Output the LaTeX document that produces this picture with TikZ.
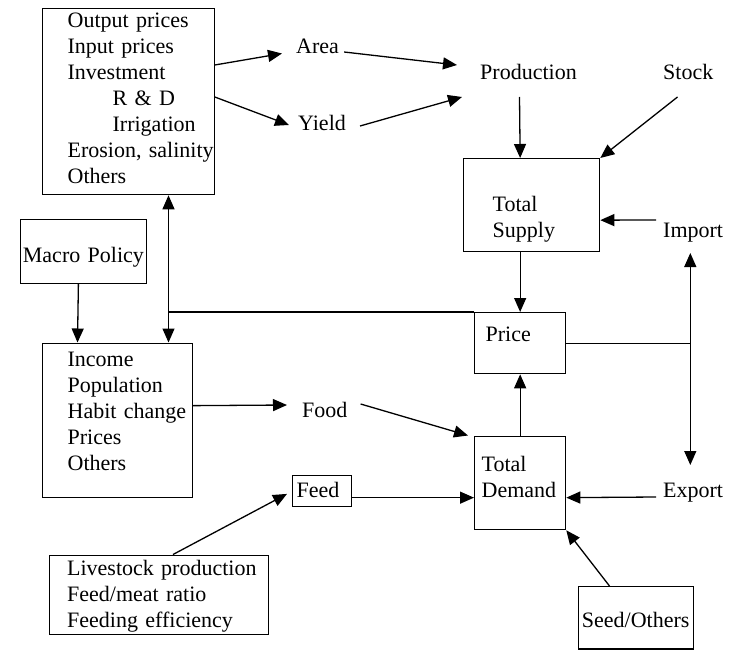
\documentclass[tikz,border=0pt]{standalone}
\usepackage{fontspec}
\setmainfont{Liberation Serif}
\usetikzlibrary{positioning, arrows.meta}

\tikzset{
	box/.style={draw, line width=1.3pt, anchor=north west, align=left, inner sep=0pt},
	lbl/.style={anchor=base west, inner sep=0pt},
	pad/.style={execute at begin node={\leftskip=#1\relax}},
	arr/.style={line width=1.3pt, -{Triangle[length=14pt, width=12pt]}},
	link/.style={line width=1.3pt},
}

\begin{document}
\begin{tikzpicture}[x=1pt, y=-1pt, font=\fontsize{22}{26}\selectfont]
	\useasboundingbox (0,0) rectangle (738,650);

	\node[box, pad=25pt, text width=171.5pt, text height=19pt, text depth=167pt] (drv) at (42,8) {Output prices\\Input prices\\Investment\\\hspace*{45pt}R \& D\\\hspace*{45pt}Irrigation\\Erosion, salinity\\Others};
	\node[box, align=center, text width=125.5pt, text height=42.5pt, text depth=21pt] (macro) at (20,219) {Macro Policy};
	\node[box, pad=25pt, text width=149.5pt, text height=23.3pt, text depth=131.2pt] (income) at (42,342.5) {Income\\Population\\Habit change\\Prices\\Others};
	\node[box, pad=18pt, text width=219pt, text height=20.5pt, text depth=58.5pt] (live) at (48.5,554.5) {Livestock production\\Feed/meat ratio\\Feeding efficiency};
	\node[box, pad=4pt, text width=59pt, text height=22.8pt, text depth=8.7pt] (feed) at (292,474.5) {Feed};
	\node[box, pad=29pt, text width=136pt, text height=52.5pt, text depth=40.5pt] (supply) at (463,158) {Total\\Supply};
	\node[box, pad=11pt, text width=91pt, text height=28.7pt, text depth=32.3pt] (price) at (474,312) {Price};
	\node[box, pad=7pt, text width=91pt, text height=35.2pt, text depth=58.3pt] (demand) at (474,435.5) {Total\\Demand};
	\node[box, align=center, text width=115pt, text height=40.7pt, text depth=21.6pt] (seed) at (577.5,586) {Seed/Others};

	\node[lbl] (area) at (296,53.5) {Area};
	\node[lbl] (yield) at (298,131) {Yield};
	\node[lbl] (prod) at (480,80) {Production};
	\node[lbl] (stock) at (663,80) {Stock};
	\node[lbl] (import) at (663,237) {Import};
	\node[lbl] (export) at (663,497) {Export};
	\node[lbl] (food) at (302,417) {Food};

	\coordinate[left=305.5pt of price.north west] (pj);
	\coordinate[right=124pt of price.east] (tj);

	\draw[arr] ([yshift=-57pt]drv.north east) -- ([xshift=-14pt]area.base west);
	\draw[arr] ([yshift=-89pt]drv.north east) -- ([xshift=-9pt,yshift=6pt]yield.base west);
	\draw[arr] ([xshift=5pt,yshift=1.5pt]area.base east) -- ([xshift=-23pt,yshift=15pt]prod.base west);
	\draw[arr] ([xshift=14pt,yshift=5pt]yield.base east) -- ([xshift=-18pt,yshift=-17pt]prod.base west);
	\draw[arr] ([xshift=39.5pt,yshift=-17pt]prod.base west) -- ([xshift=-11.5pt]supply.north);
	\draw[arr] ([xshift=14.5pt,yshift=-17pt]stock.base west) -- (supply.north east);
	\draw[arr] ([xshift=-7pt,yshift=17pt]import.base west) -- ([yshift=-15pt]supply.east);
	\draw[arr] ([xshift=-11.5pt]supply.south) -- (price.north);

	\draw[link] (price.north west) -- (pj);
	\draw[arr] (pj) -- (pj |- drv.south);
	\draw[arr] (pj) -- (pj |- income.north);
	\draw[link] (price.east) -- (tj);
	\draw[arr, shorten >=16pt] (tj) -- (tj |- import.base);
	\draw[arr, shorten >=32pt] (tj) -- (tj |- export.base);

	\draw[arr] ([xshift=-5pt]macro.south) -- ([xshift=35.5pt]income.north west);
	\draw[arr] ([yshift=14.75pt]income.east) -- ([xshift=-15pt,yshift=12pt]food.base west);
	\draw[arr] ([xshift=13pt,yshift=13pt]food.base east) -- ([xshift=-6pt]demand.north west);
	\draw[arr] ([yshift=-6.75pt]feed.east) -- ([yshift=-14.75pt]demand.west);
	\draw[arr] ([xshift=-7pt]export.base west) -- ([yshift=-14.75pt]demand.east);
	\draw[arr] (demand.north) -- (price.south);
	\draw[arr] ([xshift=32pt]seed.north west) -- (demand.south east);
	\draw[arr] ([xshift=124.5pt]live.north west) -- ([xshift=-5pt,yshift=-3pt]feed.west);
\end{tikzpicture}
\end{document}
